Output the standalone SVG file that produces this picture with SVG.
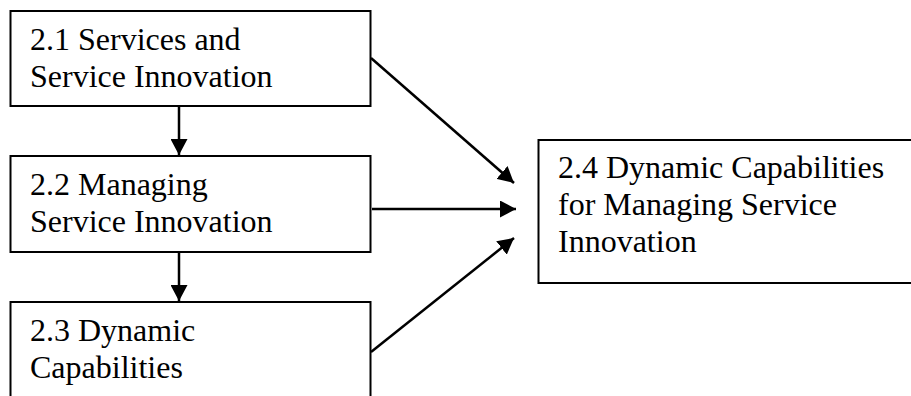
<svg xmlns="http://www.w3.org/2000/svg" width="911" height="396" viewBox="0 0 911 396">
  <defs>
    <style>
      .box { fill: #ffffff; stroke: #000000; stroke-width: 2; }
      .label { font-family: "Liberation Serif", "Times New Roman", serif; font-size: 32px; fill: #000000; }
      .edge { stroke: #000000; stroke-width: 2.5; fill: none; marker-end: url(#arrow); }
    </style>
    <marker id="arrow" markerUnits="userSpaceOnUse" markerWidth="16" markerHeight="17" refX="16" refY="8.5" orient="auto">
      <path d="M0,0 L16,8.5 L0,17 Z" fill="#000000"/>
    </marker>
  </defs>
  <rect width="911" height="396" fill="#ffffff"/>

  <g id="connectors">
    <line class="edge" x1="179" y1="107" x2="179" y2="155"/>
    <line class="edge" x1="179" y1="253" x2="179" y2="301"/>
    <line class="edge" x1="371" y1="58" x2="514" y2="183"/>
    <line class="edge" x1="372" y1="209" x2="516" y2="209"/>
    <line class="edge" x1="371" y1="352" x2="514" y2="238"/>
  </g>

  <g id="node-2-1">
    <rect class="box" x="10.5" y="11" width="360" height="95"/>
    <text class="label" x="30" y="50">2.1 Services and</text>
    <text class="label" x="30" y="87">Service Innovation</text>
  </g>

  <g id="node-2-2">
    <rect class="box" x="10.5" y="156" width="360" height="96"/>
    <text class="label" x="30" y="195">2.2 Managing</text>
    <text class="label" x="30" y="232">Service Innovation</text>
  </g>

  <g id="node-2-3">
    <rect class="box" x="10.5" y="302" width="360" height="120"/>
    <text class="label" x="30" y="341">2.3 Dynamic</text>
    <text class="label" x="30" y="378">Capabilities</text>
  </g>

  <g id="node-2-4">
    <rect class="box" x="538.5" y="140" width="400" height="143"/>
    <text class="label" x="558" y="178">2.4 Dynamic Capabilities</text>
    <text class="label" x="558" y="215">for Managing Service</text>
    <text class="label" x="558" y="252">Innovation</text>
  </g>
</svg>
